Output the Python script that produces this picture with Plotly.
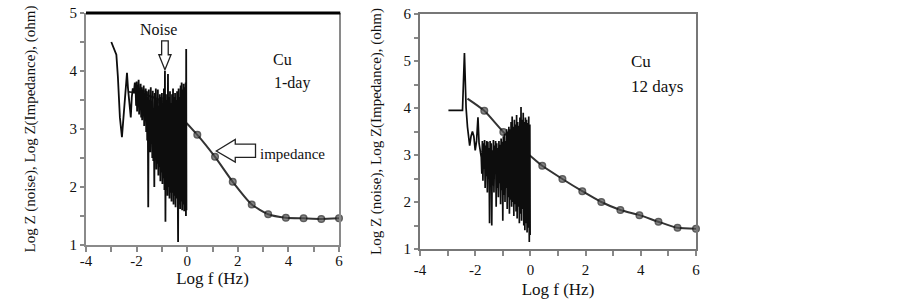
import plotly.graph_objects as go

# ---------------- data ----------------
# Panel 1 (Cu, 1-day)
noise1_x = [-3.00, -2.92, -2.80, -2.74, -2.66, -2.58, -2.50, -2.43, -2.38, -2.34, -2.28, -2.23, -2.19, -2.15, -2.11, -2.07, -2.04,
            -2.02, -2.00, -1.98, -1.96, -1.94, -1.92, -1.90, -1.88, -1.86, -1.84,
            -1.82, -1.80, -1.78, -1.76, -1.74, -1.72, -1.70, -1.68, -1.66, -1.64,
            -1.62, -1.60, -1.58, -1.56, -1.54, -1.52, -1.50, -1.48, -1.46, -1.44,
            -1.42, -1.40, -1.38, -1.36, -1.34, -1.32, -1.30, -1.28, -1.26, -1.24,
            -1.22, -1.20, -1.18, -1.16, -1.14, -1.12, -1.10, -1.08, -1.06, -1.04,
            -1.02, -1.00, -0.98, -0.96, -0.94, -0.92, -0.90, -0.88, -0.86, -0.84,
            -0.82, -0.80, -0.78, -0.76, -0.74, -0.72, -0.70, -0.68, -0.66, -0.64,
            -0.62, -0.60, -0.58, -0.56, -0.54, -0.52, -0.50, -0.48, -0.46, -0.44,
            -0.42, -0.40, -0.38, -0.36, -0.34, -0.32, -0.30, -0.28, -0.26, -0.24,
            -0.22, -0.20, -0.18, -0.16, -0.14, -0.12, -0.10, -0.08, -0.06,
            -0.05, -0.04, -0.03]
noise1_y = [4.50, 4.40, 4.28, 3.90, 3.20, 2.86, 3.30, 3.75, 3.97, 3.70, 3.40, 3.20, 3.55, 3.70, 3.62, 3.80, 3.70,
            3.40, 3.82, 3.30, 3.76, 3.45, 3.85, 3.25, 3.70, 3.35, 3.78,
            3.20, 3.72, 3.15, 3.68, 3.30, 3.75, 3.05, 3.62, 3.25, 3.70,
            2.95, 3.65, 2.80, 3.55, 1.65, 3.68, 2.70, 3.50, 2.60, 3.72,
            2.75, 3.45, 2.50, 3.66, 2.45, 3.30, 2.00, 3.62, 2.55, 3.70,
            2.30, 3.50, 2.40, 3.68, 2.20, 3.40, 2.35, 3.60, 2.10, 3.55,
            2.25, 3.62, 2.05, 3.45, 2.15, 3.70, 1.95, 4.00, 1.40, 3.60,
            1.95, 3.50, 1.85, 3.95, 2.00, 3.55, 1.80, 3.65, 1.90, 3.45,
            1.75, 3.60, 1.90, 3.70, 1.70, 3.55, 1.85, 3.62, 1.65, 3.50,
            1.80, 3.65, 1.60, 1.05, 3.70, 1.70, 3.55, 1.62, 3.75, 1.75,
            3.80, 1.60, 3.68, 1.70, 3.78, 1.58, 3.72, 1.65, 3.80,
            1.50, 4.38, 1.60]
imp1_x = [-2.30, -1.70, -1.00, -0.30, 0.40, 1.10, 1.80, 2.55, 3.20, 3.90, 4.60, 5.30, 6.00]
imp1_y = [3.64, 3.60, 3.48, 3.22, 2.90, 2.52, 2.09, 1.70, 1.53, 1.47, 1.46, 1.45, 1.46]

# Panel 2 (Cu, 12 days)
noise2_x = [-2.97, -2.46, -2.39, -2.33, -2.28, -2.24, -2.20, -2.15, -2.10, -2.05, -2.00, -1.95, -1.90, -1.86, -1.82, -1.78,
            -1.76, -1.74, -1.72, -1.70, -1.68, -1.66, -1.64, -1.62, -1.60, -1.58,
            -1.56, -1.54, -1.52, -1.50, -1.48, -1.46, -1.44, -1.42, -1.40, -1.38,
            -1.36, -1.34, -1.32, -1.30, -1.28, -1.26, -1.24, -1.22, -1.20, -1.18,
            -1.16, -1.14, -1.12, -1.10, -1.08, -1.06, -1.04, -1.02, -1.00, -0.98,
            -0.96, -0.94, -0.92, -0.90, -0.88, -0.86, -0.84, -0.82, -0.80, -0.78,
            -0.76, -0.74, -0.72, -0.70, -0.68, -0.66, -0.64, -0.62, -0.60, -0.58,
            -0.56, -0.54, -0.52, -0.50, -0.48, -0.46, -0.44, -0.42, -0.40, -0.38,
            -0.36, -0.34, -0.32, -0.30, -0.28, -0.26, -0.24, -0.22, -0.20, -0.18,
            -0.16, -0.14, -0.12, -0.10, -0.08, -0.06, -0.04,
            -0.02, -0.01]
noise2_y = [3.95, 3.95, 5.17, 4.00, 3.60, 3.30, 3.20, 3.40, 3.50, 3.40, 3.10, 3.30, 3.80, 3.25, 3.10, 2.95,
            2.60, 3.30, 2.45, 3.25, 2.70, 3.32, 2.30, 3.20, 2.55, 3.30,
            2.20, 3.28, 2.50, 3.15, 1.55, 3.30, 2.40, 3.25, 1.50, 3.10,
            2.35, 3.32, 2.20, 3.20, 2.60, 3.30, 1.90, 3.25, 2.30, 3.15,
            2.10, 3.30, 2.40, 3.22, 1.95, 3.35, 2.25, 3.28, 1.60, 3.40,
            2.15, 3.45, 2.00, 3.30, 2.30, 3.55, 1.85, 3.50, 2.10, 3.60,
            1.75, 3.55, 2.05, 3.70, 1.90, 3.82, 2.00, 3.60, 1.70, 3.75,
            1.95, 3.65, 1.80, 3.85, 1.65, 3.70, 1.90, 3.62, 1.55, 3.80,
            1.75, 4.02, 1.60, 3.75, 1.85, 3.90, 1.50, 3.70, 1.40, 3.80,
            1.55, 3.75, 1.35, 3.68, 1.45, 3.82, 1.15,
            3.65, 1.30]
imp2_x = [-2.28, -1.67, -0.98, -0.27, 0.43, 1.16, 1.88, 2.57, 3.26, 3.95, 4.64, 5.33, 6.00]
imp2_y = [4.20, 3.94, 3.49, 3.12, 2.77, 2.49, 2.23, 2.00, 1.83, 1.72, 1.58, 1.45, 1.43]

x_ticks = [-4, -2, 0, 2, 4, 6]
y1_ticks = [1, 2, 3, 4, 5]
y2_ticks = [1, 2, 3, 4, 5, 6]

# ---------------- figure ----------------
W, H = 902, 303
FONT = "Liberation Serif"

fig = go.Figure()

def add_panel(nx, ny, ix, iy, xa, ya, nw):
    sizes = [0] + [6.5] * (len(ix) - 1)
    fig.add_trace(go.Scatter(x=ix, y=iy, xaxis=xa, yaxis=ya, mode="lines+markers",
                             line=dict(color="#333333", width=2, shape="spline", smoothing=0.6),
                             marker=dict(size=sizes, color="#555555",
                                         line=dict(color="#1a1a1a", width=1.5)),
                             cliponaxis=False, showlegend=False, hoverinfo="skip"))
    fig.add_trace(go.Scatter(x=nx, y=ny, xaxis=xa, yaxis=ya, mode="lines",
                             line=dict(color="#0d0d0d", width=nw),
                             showlegend=False, hoverinfo="skip"))

add_panel(noise1_x, noise1_y, imp1_x, imp1_y, "x", "y", 1.8)
add_panel(noise2_x, noise2_y, imp2_x, imp2_y, "x2", "y2", 1.7)

def xax(domain, standoff, tls):
    return dict(domain=domain, range=[-4, 6], tickvals=x_ticks, ticktext=[str(v) for v in x_ticks],
                ticks="outside", ticklen=5, tickwidth=1.5, tickcolor="#888888",
                minor=dict(dtick=1, tick0=0, ticks="outside", ticklen=5, tickwidth=1.5, tickcolor="#888888"),
                showline=True, linecolor="#8a8a8a", linewidth=2, automargin=False,
                showgrid=False, zeroline=False, ticklabelstandoff=tls,
                tickfont=dict(family=FONT, size=15, color="#111"),
                title=dict(text="Log f (Hz)", font=dict(family=FONT, size=17, color="#111"), standoff=standoff))

def yax(domain, rng, tv, standoff, anchor):
    return dict(domain=domain, range=rng, tickvals=tv, ticktext=[str(v) for v in tv], anchor=anchor,
                ticks="outside", ticklen=4, tickwidth=1.5, tickcolor="#888888",
                minor=dict(dtick=0.5, tick0=0, ticks="outside", ticklen=4, tickwidth=1.5, tickcolor="#888888"),
                showline=True, linecolor="#8a8a8a", linewidth=2, mirror=True, automargin=False,
                showgrid=False, zeroline=False,
                tickfont=dict(family=FONT, size=15, color="#111"),
                title=dict(text="Log Z (noise), Log Z(Impedance), (ohm)",
                           font=dict(family=FONT, size=15, color="#111"), standoff=standoff))

fig.update_layout(
    width=W, height=H, margin=dict(l=0, r=0, t=0, b=0),
    paper_bgcolor="white", plot_bgcolor="white",
    font=dict(family=FONT),
    xaxis=xax([86 / W, 339 / W], 0, -4) | dict(anchor="y"),
    yaxis=yax([(H - 245) / H, (H - 13) / H], [1, 5], y1_ticks, 30, "x"),
    xaxis2=xax([420 / W, 696 / W], 6, 1) | dict(anchor="y2", mirror=True, linecolor="#777777"),
    yaxis2=yax([(H - 249) / H, (H - 14) / H], [1, 6], y2_ticks, 18, "x2") | dict(linecolor="#777777"),
)

# thick black top border on left panel
fig.add_shape(type="line", xref="x domain", yref="y domain", x0=0, x1=1.005, y0=1, y1=1,
              line=dict(color="black", width=3))

# hollow "Noise" arrow (pointing down) and hollow "impedance" arrow (pointing left)
fig.add_shape(type="path", xref="x", yref="y",
              path="M -1.01,4.52 L -0.75,4.52 L -0.75,4.28 L -0.64,4.28 L -0.88,4.02 L -1.12,4.28 L -1.01,4.28 Z",
              fillcolor="white", line=dict(color="#222", width=1.3))
fig.add_shape(type="path", xref="x", yref="y",
              path="M 1.15,2.62 L 1.90,2.82 L 1.90,2.74 L 2.70,2.74 L 2.70,2.51 L 1.90,2.51 L 1.90,2.43 Z",
              fillcolor="white", line=dict(color="#222", width=1.3))

def txt(x, y, s, xa, ya, size, anchor="left"):
    fig.add_annotation(x=x, y=y, xref=xa, yref=ya, text=s, showarrow=False, xanchor=anchor, yanchor="middle",
                       font=dict(family=FONT, size=size, color="#111"))

txt(-1.15, 4.72, "Noise", "x", "y", 16, "center")
txt(2.78, 2.57, "impedance", "x", "y", 15)
txt(3.32, 4.19, "Cu", "x", "y", 16)
txt(3.34, 3.79, "1-day", "x", "y", 16)
txt(3.59, 4.98, "Cu", "x2", "y2", 17)
txt(3.59, 4.45, "12 days", "x2", "y2", 17)

fig.write_html("out.html", config={"displayModeBar": False},
               post_script="document.body.style.margin='0';document.body.style.padding='0';"
                           "document.body.style.overflow='hidden';")
